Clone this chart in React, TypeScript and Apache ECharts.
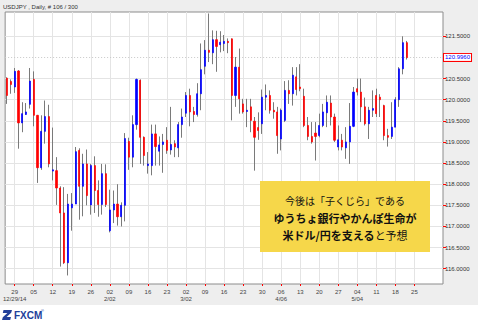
import React, { useEffect, useRef } from "react";
import * as echarts from "echarts";

const titleText = "USDJPY , Daily, # 106 / 300";

const dates = [
  "12/25","12/26","12/29","12/30","12/31","01/01","01/02",
  "01/05","01/06","01/07","01/08","01/09",
  "01/12","01/13","01/14","01/15","01/16",
  "01/19","01/20","01/21","01/22","01/23",
  "01/26","01/27","01/28","01/29","01/30",
  "02/02","02/03","02/04","02/05","02/06",
  "02/09","02/10","02/11","02/12","02/13",
  "02/16","02/17","02/18","02/19","02/20",
  "02/23","02/24","02/25","02/26","02/27",
  "03/02","03/03","03/04","03/05","03/06",
  "03/09","03/10","03/11","03/12","03/13",
  "03/16","03/17","03/18","03/19","03/20",
  "03/23","03/24","03/25","03/26","03/27",
  "03/30","03/31","04/01","04/02","04/03",
  "04/06","04/07","04/08","04/09","04/10",
  "04/13","04/14","04/15","04/16","04/17",
  "04/20","04/21","04/22","04/23","04/24",
  "04/27","04/28","04/29","04/30","05/01",
  "05/04","05/05","05/06","05/07","05/08",
  "05/11","05/12","05/13","05/14","05/15",
  "05/18","05/19","05/20","05/21","05/22",
  "05/25","05/26","05/27","05/28","05/29",
  "06/01","06/02","06/03",
];

const weekLabels = [
  "12/29","01/05","01/12","01/19","01/26","02/02","02/09","02/16","02/23",
  "03/02","03/09","03/16","03/23","03/30","04/06","04/13","04/20","04/27",
  "05/04","05/11","05/18","05/25",
];

const monthLabels: Record<string, string> = {
  "12/29": "12/29/14",
  "02/02": "2/02",
  "03/02": "3/02",
  "04/06": "4/06",
  "05/04": "5/04",
};

const opens = [
  120.51,120.43,120.30,120.68,119.45,119.65,119.89,120.48,119.63,118.39,
  119.25,119.60,118.31,118.32,117.91,117.32,116.14,117.44,117.53,118.80,
  117.95,118.48,117.51,118.44,117.85,117.52,118.25,116.90,117.39,117.53,
  117.23,117.50,119.01,118.64,119.41,120.46,119.11,118.44,118.44,119.19,
  118.78,118.94,119.04,118.81,118.96,118.86,119.41,119.68,120.10,119.72,
  119.65,120.14,120.79,121.17,121.11,121.42,121.30,121.33,121.38,121.44,
  120.10,120.77,119.90,119.72,119.83,119.49,119.34,119.43,120.06,120.10,
  119.75,119.71,119.07,119.51,120.22,120.14,120.54,120.30,120.08,119.39,
  119.13,119.21,119.15,119.39,119.69,119.92,119.59,118.88,119.04,118.86,
  119.00,119.37,120.26,120.18,119.83,119.43,119.75,120.10,120.06,119.86,
  119.15,119.13,119.35,120.00,120.73,121.35,
];

const closes = [
  120.10,120.36,120.67,119.45,119.67,119.71,120.44,119.63,118.39,119.25,
  119.60,118.48,118.34,117.91,117.32,116.14,117.53,117.53,118.77,117.95,
  118.48,117.73,118.44,117.85,117.52,118.25,117.52,117.39,117.53,117.23,
  117.50,119.08,118.64,119.41,120.48,119.11,118.68,118.48,119.19,118.89,
  118.93,119.00,118.80,118.94,118.88,119.41,119.59,120.10,119.71,119.65,
  120.14,120.71,121.17,121.12,121.42,121.26,121.36,121.38,121.35,120.10,
  120.77,120.02,119.71,119.75,119.51,119.11,119.27,120.06,120.10,119.75,
  119.71,119.15,119.75,120.22,120.14,120.58,120.24,120.26,119.39,119.13,
  119.00,119.13,119.39,119.71,119.94,119.59,119.04,119.05,118.88,119.00,
  119.37,120.18,120.18,119.83,119.43,119.75,119.79,119.67,120.00,119.15,
  119.11,119.35,120.00,120.73,121.35,120.996,
];

const lows = [
  119.90,120.14,120.16,118.84,119.23,119.64,119.79,119.37,118.03,118.34,
  118.96,118.40,118.09,117.51,116.05,116.11,115.84,116.90,117.53,117.16,
  117.24,117.50,117.28,117.32,117.23,117.28,117.46,116.86,117.08,117.02,
  117.00,117.12,118.34,118.40,119.29,118.48,118.44,118.25,118.21,118.44,
  118.44,118.27,118.72,118.70,118.64,118.64,119.10,119.59,119.37,119.47,
  119.60,119.75,120.60,120.89,120.84,120.66,121.12,121.15,121.10,119.51,
  119.83,119.67,119.67,119.35,119.23,118.32,119.05,119.19,119.75,119.67,
  119.55,118.72,118.80,119.47,119.90,119.86,120.10,120.20,119.35,119.04,
  118.96,118.56,119.11,119.35,119.35,119.39,119.00,118.80,118.80,118.60,
  118.48,119.35,120.10,119.47,119.39,119.07,119.59,119.59,119.59,119.04,
  118.89,119.07,119.35,119.83,120.60,120.95,
];

const highs = [
  120.53,120.48,120.75,120.70,119.94,119.92,120.75,120.67,119.64,119.63,
  119.98,119.88,119.34,118.64,117.95,117.93,117.77,117.79,118.88,118.85,
  118.72,118.82,118.48,118.66,118.09,118.48,118.47,117.87,117.85,118.00,
  117.57,119.21,119.10,119.63,120.50,120.48,119.13,118.76,119.41,119.41,
  119.13,119.19,119.35,119.83,119.04,119.47,119.79,120.18,120.26,119.83,
  120.39,121.33,121.41,122.04,121.64,121.63,121.62,121.53,121.45,121.45,
  121.01,121.21,120.02,120.02,120.02,119.59,119.70,120.24,120.36,120.22,
  119.94,119.83,119.79,120.44,120.46,120.77,120.77,120.84,120.26,119.59,
  119.47,119.47,119.67,119.90,120.10,120.10,119.67,119.39,119.19,119.35,
  119.92,120.30,120.50,120.50,120.05,119.83,120.22,120.26,120.13,119.88,
  119.31,119.94,120.06,120.77,121.50,121.39,
];

const yTickValues = [116, 116.5, 117, 117.5, 118, 118.5, 119, 119.5, 120, 120.5, 121.5];
const lastPrice = 120.996;

const noteLine1 = "今後は「子くじら」である";
const noteLine2 = "ゆうちょ銀行やかんぽ生命が";
const noteLine3Bold = "米ドル/円を支える";
const noteLine3Normal = "と予想";
const logoText = "FXCM";

echarts.graphic.registerShape(
  "fxcmIcon",
  echarts.graphic.extendPath(
    "M1.5 0 L10 0 L9.2 2.8 L4.6 7 L9 7 L8.2 10 L0 10 L0.8 7.2 L5.4 3 L0.8 3 Z",
    {}
  )
);

const LATIN = "'Liberation Sans', Arial, sans-serif";
const CJK = "'Noto Sans CJK JP', sans-serif";

export default function App() {
  const ref = useRef<HTMLDivElement>(null);

  useEffect(() => {
    document.body.style.margin = "0";
    if (!ref.current) return;
    const chart = echarts.init(ref.current, undefined, { renderer: "svg" });

    const wickData = opens.map((o, i) => [o, closes[i], lows[i], highs[i]]);
    const bodyData = opens.map((o, i) => [
      o,
      closes[i],
      Math.min(o, closes[i]),
      Math.max(o, closes[i]),
    ]);
    const isWeek = (index: number, value: string) => weekLabels.indexOf(value) >= 0;

    const option: any = {
      animation: false,
      backgroundColor: "#eeeeee",
      grid: {
        left: 3,
        top: 12,
        width: 440,
        height: 272,
        show: true,
        backgroundColor: "#ffffff",
        borderColor: "#8c8c8c",
        borderWidth: 1,
      },
      xAxis: {
        type: "category",
        data: dates,
        boundaryGap: true,
        axisLine: { show: false },
        axisTick: {
          show: true,
          alignWithLabel: true,
          interval: isWeek,
          length: 2,
          lineStyle: { color: "#ff0000", width: 1 },
        },
        axisLabel: {
          interval: isWeek,
          margin: 4,
          fontSize: 6,
          lineHeight: 7.6,
          color: "#444",
          fontFamily: LATIN,
          formatter: (value: string) => {
            const day = value.slice(3);
            return monthLabels[value] ? day + "\n" + monthLabels[value] : day;
          },
        },
        splitLine: { show: false },
      },
      yAxis: {
        type: "value",
        position: "right",
        min: 115.638,
        max: 122.075,
        axisLine: { show: false },
        axisTick: {
          show: true,
          customValues: yTickValues,
          length: 3,
          lineStyle: { color: "#ff0000", width: 1 },
        },
        axisLabel: {
          customValues: yTickValues,
          margin: 2,
          fontSize: 6,
          color: "#333",
          fontFamily: LATIN,
          formatter: (v: number) => v.toFixed(4),
        },
        splitLine: { show: false },
      },
      series: [
        {
          type: "line",
          data: [],
          silent: true,
          markLine: {
            silent: true,
            z: 1,
            symbol: ["none", "none"],
            label: { show: false },
            lineStyle: { color: "#e4e4e4", width: 1, type: "solid" },
            emphasis: { disabled: true },
            data: [
              ...yTickValues.map((v) => ({ yAxis: v })),
              ...weekLabels.map((d) => ({ xAxis: d })),
            ],
          },
        },
        {
          type: "line",
          data: [],
          silent: true,
          markLine: {
            silent: true,
            z: 1,
            symbol: ["none", "none"],
            lineStyle: { color: "#c8c8c8", width: 1, type: [1, 2] },
            emphasis: { disabled: true },
            label: {
              show: true,
              position: "end",
              distance: 1,
              formatter: () => lastPrice.toFixed(4),
              fontSize: 6,
              fontFamily: LATIN,
              color: "#0000ff",
              backgroundColor: "#ffffff",
              borderColor: "#ff0000",
              borderWidth: 1,
              padding: [1, 1, 0, 1],
            },
            data: [{ yAxis: lastPrice }],
          },
        },
        {
          type: "candlestick",
          data: wickData,
          barWidth: 0.3,
          z: 10,
          silent: true,
          itemStyle: {
            color: "#7a7a7a",
            color0: "#7a7a7a",
            borderColor: "#7a7a7a",
            borderColor0: "#7a7a7a",
            borderColorDoji: "#7a7a7a",
            borderWidth: 1,
          },
        },
        {
          type: "candlestick",
          data: bodyData,
          barWidth: 1.6,
          z: 11,
          silent: true,
          itemStyle: {
            color: "#0000ff",
            color0: "#ff0000",
            borderColor: "#0000ff",
            borderColor0: "#ff0000",
            borderColorDoji: "#0000ff",
            borderWidth: 0.7,
          },
        },
      ],
      graphic: {
        elements: [
          {
            type: "rect",
            shape: { x: 0, y: 305, width: 478, height: 17 },
            style: { fill: "#ffffff" },
          },
          {
            type: "text",
            x: 3,
            y: 7,
            style: {
              text: titleText,
              fontSize: 6,
              fontFamily: LATIN,
              fill: "#333",
              verticalAlign: "middle",
            },
          },
          {
            type: "rect",
            z: 100,
            shape: { x: 260, y: 181, width: 170, height: 71 },
            style: { fill: "#f6d74a" },
          },
          {
            type: "text",
            z: 101,
            x: 345,
            y: 200,
            style: {
              text: noteLine1,
              fontSize: 10,
              fontFamily: CJK,
              fill: "#111",
              align: "center",
              verticalAlign: "middle",
            },
          },
          {
            type: "text",
            z: 101,
            x: 345,
            y: 217.5,
            style: {
              text: noteLine2,
              fontSize: 11,
              fontWeight: "bold",
              fontFamily: CJK,
              fill: "#111",
              align: "center",
              verticalAlign: "middle",
            },
          },
          {
            type: "text",
            z: 101,
            x: 345,
            y: 235,
            style: {
              text: "{b|" + noteLine3Bold + "}{n|" + noteLine3Normal + "}",
              align: "center",
              verticalAlign: "middle",
              rich: {
                b: { fontSize: 11, fontWeight: "bold", fontFamily: CJK, fill: "#111" },
                n: { fontSize: 11, fontWeight: "normal", fontFamily: CJK, fill: "#111" },
              },
            },
          },
          {
            type: "fxcmIcon",
            x: 2,
            y: 310,
            scaleX: 1,
            scaleY: 1,
            style: { fill: "#22409a" },
          },
          {
            type: "text",
            x: 14,
            y: 315.5,
            style: {
              text: logoText,
              fontSize: 10,
              fontWeight: "bold",
              fontFamily: LATIN,
              fill: "#22409a",
              verticalAlign: "middle",
            },
          },
          {
            type: "text",
            x: 41,
            y: 310,
            style: {
              text: "®",
              fontSize: 4,
              fontFamily: LATIN,
              fill: "#22409a",
              verticalAlign: "middle",
            },
          },
        ],
      },
    };

    chart.setOption(option);
    return () => chart.dispose();
  }, []);

  return <div ref={ref} style={{ width: 478, height: 322 }} />;
}
